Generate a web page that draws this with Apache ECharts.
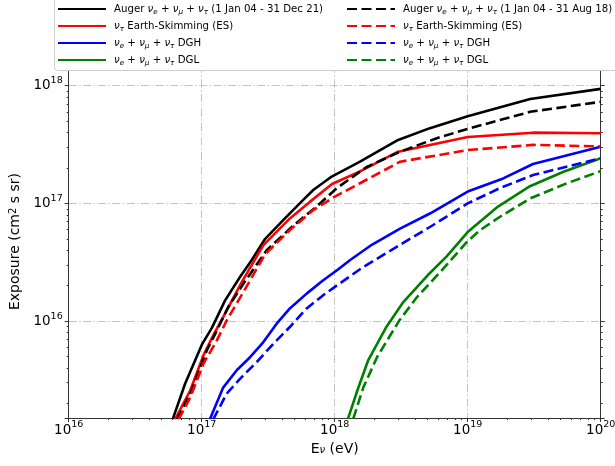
<!DOCTYPE html>
<html>
<head>
<meta charset="utf-8">
<script src="https://cdn.jsdelivr.net/npm/echarts@6/dist/echarts.min.js"></script>
<style>
  html, body { margin: 0; padding: 0; background: #fff; }
  #main { width: 615px; height: 466px; }
</style>
</head>
<body>
<div id="main"></div>
<script>
// neutrino energy (eV) and exposure (cm^2 s sr)
// solid = 1 Jan 04 - 31 Dec 21, dashed = 1 Jan 04 - 31 Aug 18
var augerE21 = [6.05e16, 7.5e16, 1.01e17, 1.19e17, 1.5e17, 1.94e17, 2.38e17, 3.0e17, 4.1e17, 5.8e17, 6.9e17, 9.5e17, 1.55e18, 3.0e18, 5.2e18, 1e19, 2.95e19, 1e20];
var augerX21 = [1.46e15, 2.93e15, 6.4e15, 8.7e15, 1.5e16, 2.37e16, 3.3e16, 5.0e16, 7.2e16, 1.07e17, 1.3e17, 1.69e17, 2.26e17, 3.46e17, 4.36e17, 5.5e17, 7.7e17, 9.4e17];
var augerE18 = [6.5e16, 8.2e16, 1.09e17, 1.3e17, 1.58e17, 2.06e17, 3.08e17, 4.9e17, 7.3e17, 1.04e18, 1.74e18, 3.1e18, 5.85e18, 1e19, 2.95e19, 1e20];
var augerX18 = [1.46e15, 2.41e15, 5.6e15, 8.3e15, 1.31e16, 2.08e16, 4.0e16, 6.5e16, 9.4e16, 1.35e17, 2.04e17, 2.75e17, 3.58e17, 4.3e17, 6.0e17, 7.3e17];

var esE21 = [6.3e16, 8.2e16, 1.03e17, 1.22e17, 1.45e17, 2.0e17, 2.9e17, 4.6e17, 6.5e17, 9.55e17, 1.55e18, 3.0e18, 1e19, 3.1e19, 1e20];
var esX21 = [1.46e15, 2.57e15, 5.1e15, 7.55e15, 1.08e16, 2.14e16, 4.4e16, 7.45e16, 1.03e17, 1.46e17, 1.87e17, 2.75e17, 3.67e17, 3.99e17, 3.94e17];
var esE18 = [6.7e16, 8.2e16, 1.03e17, 1.3e17, 1.54e17, 2.06e17, 3.0e17, 4.6e17, 6.9e17, 1.0e18, 1.46e18, 3.1e18, 1e19, 3.1e19, 1e20];
var esX18 = [1.46e15, 2.24e15, 4.34e15, 6.85e15, 1.01e16, 1.77e16, 3.7e16, 5.93e16, 8.77e16, 1.14e17, 1.43e17, 2.26e17, 2.84e17, 3.14e17, 3.05e17];

var dghE21 = [1.15e17, 1.45e17, 1.84e17, 2.31e17, 2.9e17, 3.66e17, 4.6e17, 6.15e17, 8.2e17, 1.04e18, 1.3e18, 1.9e18, 3.1e18, 5.2e18, 1e19, 1.85e19, 3.1e19, 1e20];
var dghX21 = [1.46e15, 2.72e15, 3.84e15, 4.93e15, 6.6e15, 9.5e15, 1.28e16, 1.71e16, 2.22e16, 2.7e16, 3.29e16, 4.45e16, 6.1e16, 8.2e16, 1.26e17, 1.63e17, 2.16e17, 3.03e17];
var dghE18 = [1.22e17, 1.54e17, 1.94e17, 2.59e17, 3.45e17, 4.6e17, 6.15e17, 8.2e17, 1.04e18, 1.64e18, 2.92e18, 5.2e18, 1e19, 1.75e19, 3.1e19, 1e20];
var dghX18 = [1.46e15, 2.41e15, 3.23e15, 4.48e15, 6.4e15, 8.9e15, 1.28e16, 1.66e16, 2.01e16, 2.88e16, 4.27e16, 6.3e16, 1.0e17, 1.35e17, 1.74e17, 2.42e17];

var dglE21 = [1.26e18, 1.48e18, 1.78e18, 2.43e18, 3.28e18, 5.0e18, 6.95e18, 1e19, 1.69e19, 2.94e19, 5.2e19, 1e20];
var dglX21 = [1.48e15, 2.57e15, 4.6e15, 8.8e15, 1.45e16, 2.45e16, 3.55e16, 5.7e16, 9.4e16, 1.4e17, 1.85e17, 2.42e17];
var dglE18 = [1.38e18, 1.64e18, 2.08e18, 3.04e18, 4.16e18, 6.2e18, 1e19, 1.24e19, 1.75e19, 2.94e19, 5.55e19, 1e20];
var dglX18 = [1.48e15, 2.72e15, 4.93e15, 1.0e16, 1.6e16, 2.6e16, 4.78e16, 5.93e16, 7.7e16, 1.1e17, 1.48e17, 1.88e17];

var legendText = {
  auger21: 'Auger {i|ν}{s|e} + {i|ν}{s|μ} + {i|ν}{s|τ} (1 Jan 04 - 31 Dec 21)',
  es21: '{i|ν}{s|τ} Earth-Skimming (ES)',
  dgh21: '{i|ν}{s|e} + {i|ν}{s|μ} + {i|ν}{s|τ} DGH',
  dgl21: '{i|ν}{s|e} + {i|ν}{s|μ} + {i|ν}{s|τ} DGL',
  auger18: 'Auger {i|ν}{s|e} + {i|ν}{s|μ} + {i|ν}{s|τ} (1 Jan 04 - 31 Aug 18)',
  es18: '{i|ν}{s|τ} Earth-Skimming (ES)',
  dgh18: '{i|ν}{s|e} + {i|ν}{s|μ} + {i|ν}{s|τ} DGH',
  dgl18: '{i|ν}{s|e} + {i|ν}{s|μ} + {i|ν}{s|τ} DGL'
};

var FONT = 'DejaVu Sans';
var LFS = 10.2; // legend font size
var DASH = [10, 4.5];
var GRIDLINE = { color: '#c4c4c4', width: 1, type: [8, 2.5, 1.5, 2.5] };

function pairs(xs, ys) {
  return xs.map(function (x, i) { return [x, ys[i]]; });
}

function mkSeries(name, xs, ys, color, dashed) {
  return {
    name: name,
    type: 'line',
    data: pairs(xs, ys),
    symbol: 'none',
    showSymbol: false,
    clip: true,
    z: dashed ? 3 : 2,
    lineStyle: { color: color, width: 2.6, type: dashed ? DASH : 'solid' },
    itemStyle: { color: color },
    emphasis: { disabled: true },
    animation: false
  };
}

function powLabel(v) {
  var e = Math.log10(v);
  var r = Math.round(e);
  if (Math.abs(e - r) > 0.01) return '';
  return '{b|10}{p|' + r + '}';
}

var legendRich = {
  i: { fontFamily: FONT, fontSize: LFS, fontStyle: 'italic', color: '#000' },
  s: { fontFamily: FONT, fontSize: 7.2, fontStyle: 'italic', color: '#000', verticalAlign: 'bottom', lineHeight: 8 }
};

function mkLegend(left, names) {
  return {
    orient: 'vertical',
    left: left,
    top: 2,
    padding: 0,
    itemWidth: 48,
    itemHeight: 14,
    itemGap: 3,
    z: 20,
    data: names,
    itemStyle: { opacity: 0 },
    formatter: function (n) { return legendText[n]; },
    textStyle: { fontFamily: FONT, fontSize: LFS, color: '#000', lineHeight: 14, padding: [0, 0, 0, 3], rich: legendRich },
    selectedMode: false
  };
}

var labelRich = {
  b: { fontFamily: FONT, fontSize: 13.5, color: '#000', lineHeight: 20 },
  p: { fontFamily: FONT, fontSize: 9.5, color: '#000', verticalAlign: 'top', lineHeight: 10 }
};

var chart = echarts.init(document.getElementById('main'), null, { renderer: 'canvas' });

chart.setOption({
  animation: false,
  backgroundColor: '#fff',
  grid: { left: 68.7, right: 14.3, top: 65, bottom: 48, outerBoundsMode: 'none', containLabel: false },
  legend: [
    mkLegend(57, ['auger21', 'es21', 'dgh21', 'dgl21']),
    mkLegend(346, ['auger18', 'es18', 'dgh18', 'dgl18'])
  ],
  graphic: {
    elements: [{
      type: 'rect',
      z: 10,
      shape: { x: 54.5, y: -3, width: 580, height: 73.5, r: 3 },
      style: { fill: '#fff', stroke: '#cccccc', lineWidth: 1 }
    }]
  },
  xAxis: {
    type: 'log',
    logBase: 10,
    min: 1e16,
    max: 1e20,
    name: 'E{s|ν} (eV)',
    nameLocation: 'middle',
    nameGap: 22,
    nameTextStyle: {
      fontFamily: FONT, fontSize: 14, color: '#000',
      rich: {
        s: { fontFamily: FONT, fontSize: 10, fontStyle: 'italic', color: '#000', verticalAlign: 'bottom', lineHeight: 10 }
      }
    },
    axisLine: { show: true, onZero: false, lineStyle: { color: '#333', width: 1 } },
    axisTick: { show: true, inside: false, length: 4, lineStyle: { color: '#333' } },
    minorTick: { show: true, splitNumber: 9, length: 2, lineStyle: { color: '#333' } },
    axisLabel: { margin: 2, formatter: powLabel, rich: labelRich },
    splitLine: { show: true, lineStyle: GRIDLINE }
  },
  yAxis: [{
    type: 'log',
    logBase: 10,
    min: 1.5e15,
    max: 1.5e18,
    name: 'Exposure (cm{p|2} s sr)',
    nameLocation: 'middle',
    nameGap: 37,
    nameTextStyle: {
      fontFamily: FONT, fontSize: 14, color: '#000',
      rich: {
        p: { fontFamily: FONT, fontSize: 10, color: '#000', verticalAlign: 'top', lineHeight: 10 }
      }
    },
    axisLine: { show: true, onZero: false, lineStyle: { color: '#333', width: 1 } },
    axisTick: { show: true, inside: false, length: 4, lineStyle: { color: '#333' } },
    minorTick: { show: true, splitNumber: 9, length: 2, lineStyle: { color: '#333' } },
    axisLabel: { margin: 6, formatter: powLabel, rich: labelRich, showMinLabel: false, showMaxLabel: false },
    splitLine: { show: true, lineStyle: GRIDLINE }
  }, {
    type: 'log',
    logBase: 10,
    min: 1.5e15,
    max: 1.5e18,
    position: 'right',
    axisLine: { show: true, onZero: false, lineStyle: { color: '#333', width: 1 } },
    axisTick: { show: true, inside: false, length: 4, lineStyle: { color: '#333' } },
    minorTick: { show: true, splitNumber: 9, length: 2, lineStyle: { color: '#333' } },
    axisLabel: { show: false },
    splitLine: { show: false }
  }],
  series: [
    mkSeries('auger21', augerE21, augerX21, '#000000', false),
    mkSeries('es21', esE21, esX21, '#ff0000', false),
    mkSeries('dgh21', dghE21, dghX21, '#0000ff', false),
    mkSeries('dgl21', dglE21, dglX21, '#008000', false),
    mkSeries('auger18', augerE18, augerX18, '#000000', true),
    mkSeries('es18', esE18, esX18, '#ff0000', true),
    mkSeries('dgh18', dghE18, dghX18, '#0000ff', true),
    mkSeries('dgl18', dglE18, dglX18, '#008000', true)
  ]
});
</script>
</body>
</html>
